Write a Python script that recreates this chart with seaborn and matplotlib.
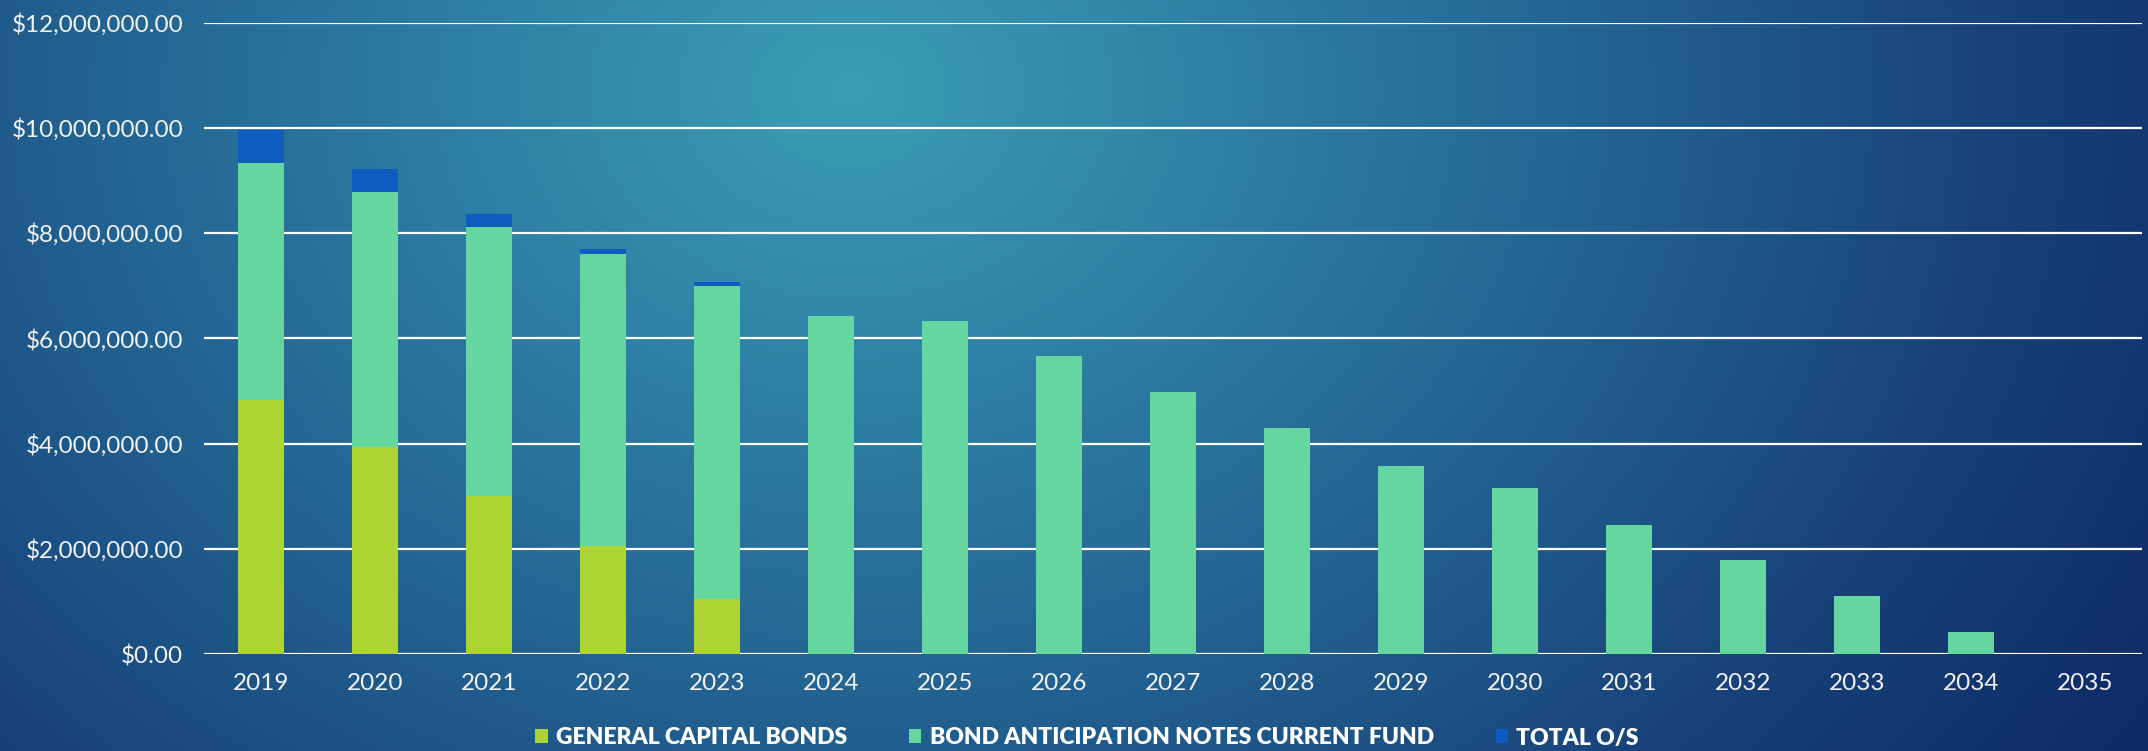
import numpy as np
import pandas as pd
import matplotlib
matplotlib.use("Agg")
import matplotlib.pyplot as plt
import seaborn as sns
from matplotlib.colors import LinearSegmentedColormap
from matplotlib.patches import Patch
from matplotlib.ticker import FuncFormatter

years = ["2019", "2020", "2021", "2022", "2023", "2024", "2025", "2026", "2027",
         "2028", "2029", "2030", "2031", "2032", "2033", "2034", "2035"]
general_capital_bonds = [4820000, 3940000, 3000000, 2060000, 1040000, 0, 0, 0, 0,
                         0, 0, 0, 0, 0, 0, 0, 0]
bond_anticipation_notes = [4510000, 4840000, 5120000, 5540000, 5960000, 6430000,
                           6330000, 5660000, 4970000, 4290000, 3580000, 3150000,
                           2450000, 1780000, 1100000, 420000, 0]
total_os = [620000, 430000, 250000, 90000, 60000, 0, 0, 0, 0, 0, 0, 0, 0, 0, 0, 0, 0]
series_names = ["GENERAL CAPITAL BONDS", "BOND ANTICIPATION NOTES CURRENT FUND", "TOTAL O/S"]

colors = ["#acd433", "#66d6a0", "#0e5cc0"]

sns.set_theme(style="white")
plt.rcParams["font.family"] = ["Lato", "DejaVu Sans"]

W, H = 2148, 751
fig = plt.figure(figsize=(W / 100, H / 100), dpi=100)

# background radial gradient
bg = fig.add_axes([0, 0, 1, 1], zorder=-10)
yy, xx = np.mgrid[0:H, 0:W]
cx, cy = 850, 90
d = np.sqrt(((xx - cx) / 1.25) ** 2 + ((yy - cy) / 1.0) ** 2)
d = d / d.max()
cmap_bg = LinearSegmentedColormap.from_list(
    "bg", [(0, "#3c9db3"), (0.25, "#2e80a4"), (0.5, "#226291"), (0.75, "#184279"), (1.0, "#0d2a66")])
bg.imshow(d, cmap=cmap_bg, aspect="auto", extent=[0, 1, 0, 1], origin="upper", vmin=0, vmax=1)
bg.set_axis_off()

ax = fig.add_axes([204 / W, (H - 654) / H, (2142 - 204) / W, (654 - 22.5) / H])
ax.patch.set_alpha(0)

df = pd.DataFrame({"year": years, "gcb": general_capital_bonds,
                   "ban": bond_anticipation_notes, "tos": total_os})
bottom2 = df["gcb"].values
bottom3 = (df["gcb"] + df["ban"]).values

sns.barplot(data=df, x="year", y="gcb", color=colors[0], width=0.4, ax=ax,
            linewidth=0, saturation=1, zorder=3)
sns.barplot(data=df, x="year", y="ban", bottom=bottom2, color=colors[1], width=0.4, ax=ax,
            linewidth=0, saturation=1, zorder=3)
sns.barplot(data=df, x="year", y="tos", bottom=bottom3, color=colors[2], width=0.4, ax=ax,
            linewidth=0, saturation=1, zorder=3)

ax.set_ylim(0, 12000000)
ax.set_xlim(-0.5, len(years) - 0.5)
ax.set_yticks(np.arange(0, 12000001, 2000000))
ax.yaxis.set_major_formatter(FuncFormatter(lambda v, p: "${:,.2f}".format(v)))
ax.grid(axis="y", color="white", linewidth=1.6, zorder=0)
ax.set_axisbelow(True)
for s in ax.spines.values():
    s.set_visible(False)
ax.set_xlabel("")
ax.set_ylabel("")
ax.tick_params(axis="both", length=0, colors="#f2f2f2", labelsize=17.5)
ax.tick_params(axis="y", pad=15)
ax.tick_params(axis="x", pad=14)

handles = [Patch(facecolor=c, edgecolor="none") for c in colors]
leg = fig.legend(handles, series_names, loc="center", bbox_to_anchor=(0.506, (H - 738) / H),
                 ncol=3, frameon=False, handlelength=0.55, handleheight=0.55,
                 handletextpad=0.35, columnspacing=2.7,
                 prop={"family": ["Lato", "DejaVu Sans"], "weight": "heavy", "size": 16.5})
for t in leg.get_texts():
    t.set_color("white")

fig.savefig("out.png", dpi=100)
